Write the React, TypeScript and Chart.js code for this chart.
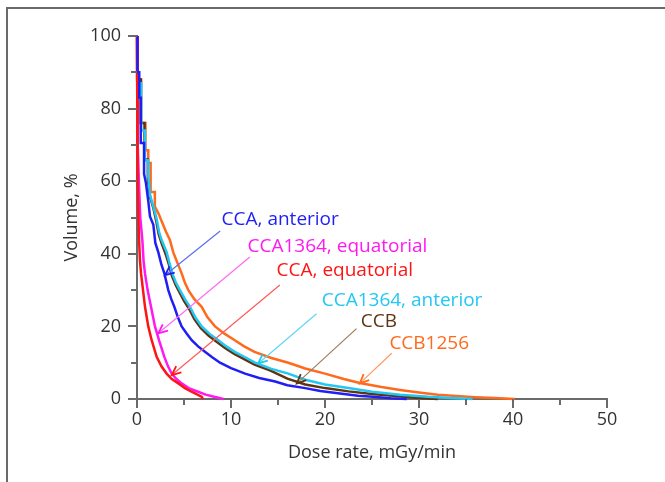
import React, { useEffect, useRef } from 'react';
import { Chart, registerables } from 'chart.js';

Chart.register(...registerables);

const FONT = '"Open Sans", "Noto Sans", sans-serif';
const TEXT = '#333333';
const AXIS = '#6a6a6a';

// Axis ticks
const xTickValues = [0, 10, 20, 30, 40, 50];
const yTickValues = [0, 20, 40, 60, 80, 100];

// CCA, anterior (blue)
const ccaAnteriorDose = [0.05, 0.05, 0.24, 0.24, 0.4, 0.4, 0.75, 0.75, 0.95, 1.2, 1.38, 1.74, 1.95, 2.27, 2.6, 2.91, 3.33, 3.65, 3.97, 4.35, 4.75, 5.3, 5.82, 6.5, 7.23, 8.0, 8.83, 10.0, 11.5, 13.0, 14.7, 16.0, 17.9, 19.5, 21.6, 23.5, 25.1, 27.0, 28.7];
const ccaAnteriorVol = [100, 90, 90, 83, 83, 70.5, 70.5, 62, 59.5, 54.5, 50.3, 48, 43, 40.4, 37, 34.6, 30, 27.5, 25.4, 22.5, 20, 18, 16.2, 14.5, 13, 11.5, 10, 8.5, 7, 5.8, 4.8, 3.8, 3.0, 2.2, 1.5, 0.9, 0.6, 0.2, 0];

// CCA, equatorial (red)
const ccaEquatorialDose = [0, 0.02, 0.1, 0.15, 0.22, 0.32, 0.43, 0.64, 0.85, 1.2, 1.56, 2.09, 2.6, 3.15, 3.7, 4.4, 5.1, 5.8, 6.9, 7.0];
const ccaEquatorialVol = [100, 70, 60, 50, 43.8, 38, 34.6, 30, 25.4, 20, 16.2, 11.6, 9, 7, 5.5, 4.3, 3, 2, 0.6, 0];

// CCA1364, equatorial (magenta)
const cca1364EquatorialDose = [0, 0.05, 0.1, 0.2, 0.35, 0.57, 0.7, 0.85, 1.13, 1.49, 1.91, 2.34, 2.91, 3.3, 3.69, 4.2, 4.75, 5.5, 6.5, 7.3, 8.2, 9.2];
const cca1364EquatorialVol = [100, 80, 70, 60, 50, 43.8, 38, 34.6, 30, 25.4, 20, 16.2, 11.6, 9, 7, 5.5, 4.3, 3, 2, 1.2, 0.6, 0];

// CCA1364, anterior (cyan)
const cca1364AnteriorDose = [0.05, 0.05, 0.45, 0.45, 0.85, 0.85, 1.2, 1.2, 1.4, 1.75, 2.1, 2.35, 2.62, 3.16, 3.45, 3.76, 4.15, 4.57, 5.1, 5.64, 6.2, 6.88, 7.7, 8.65, 9.5, 10.4, 11.5, 12.55, 14.3, 16.1, 17.9, 20, 22.5, 25, 28, 31, 34, 35.7];
const cca1364AnteriorVol = [100, 87, 87, 74, 74, 65.8, 65.8, 61.3, 56, 53, 49.5, 46, 43.8, 40.4, 37.5, 34.6, 32, 30, 27.5, 25.4, 22.5, 20, 18, 16.2, 14.5, 13, 11.5, 10, 8.3, 7, 5.3, 4, 3, 2, 1.2, 0.6, 0.2, 0];

// CCB (brown)
const ccbDose = [0.05, 0.05, 0.4, 0.4, 0.8, 0.8, 1.15, 1.15, 1.4, 1.75, 2.05, 2.3, 2.6, 3.1, 3.4, 3.7, 4.1, 4.5, 5.0, 5.55, 6.1, 6.8, 7.6, 8.5, 9.4, 10.3, 11.4, 12.5, 14.2, 16, 17.9, 20, 22.5, 25, 27.5, 30, 32];
const ccbVol = [100, 88, 88, 76, 76, 66, 66, 60.5, 55.5, 52.5, 49, 45.5, 43, 39.5, 37, 34, 31.5, 29.5, 27, 24.8, 22, 19.5, 17.5, 15.7, 14, 12.5, 11, 9.5, 7.8, 5.6, 4.0, 3.0, 2.1, 1.4, 0.8, 0.3, 0];

// CCB1256 (orange)
const ccb1256Dose = [0, 0, 0.45, 0.45, 0.9, 0.9, 1.2, 1.2, 1.45, 1.45, 1.9, 1.9, 2.3, 2.7, 3.1, 3.5, 3.86, 4.3, 4.75, 5.1, 5.46, 6.1, 6.88, 7.5, 8.3, 9.3, 10.4, 11.4, 12.5, 14.3, 16.1, 17.9, 20, 22, 23.7, 26, 28, 30, 32, 34, 36, 38, 40.2];
const ccb1256Vol = [100, 88, 88, 76, 76, 68.5, 68.5, 65, 65, 57, 57, 53, 51, 48.5, 46, 43.8, 40.4, 37.5, 34.6, 32, 30, 27.5, 25.4, 22.5, 20, 18, 16.2, 14.5, 13, 11.3, 10, 8.4, 7, 5.5, 4.4, 3.3, 2.5, 1.8, 1.2, 0.8, 0.5, 0.3, 0];

const seriesNames = ['CCA, anterior', 'CCA, equatorial', 'CCA1364, equatorial', 'CCA1364, anterior', 'CCB', 'CCB1256'];
const seriesColors = ['#1f1ff5', '#ff1414', '#ff19f0', '#22c8f2', '#5e3411', '#ff6a1c'];
const arrowColors = ['#5d6ef0', '#ff5a5a', '#ff6af6', '#5fd6f6', '#9b7c5e', '#ff9a60'];
const seriesDose = [ccaAnteriorDose, ccaEquatorialDose, cca1364EquatorialDose, cca1364AnteriorDose, ccbDose, ccb1256Dose];
const seriesVol = [ccaAnteriorVol, ccaEquatorialVol, cca1364EquatorialVol, cca1364AnteriorVol, ccbVol, ccb1256Vol];

// Label anchor (left, middle) and arrow from -> to, in data units (same order as series)
const labelAt = [[9.0, 49.3], [14.85, 35.5], [11.75, 41.9], [19.65, 27.2], [23.8, 21.3], [26.85, 15.3]];
const arrowFrom = [[8.85, 46.3], [15.2, 31.4], [12.0, 39.1], [19.1, 23.5], [23.35, 19.4], [27.1, 12.6]];
const arrowTo = [[2.98, 34.1], [3.7, 6.6], [2.27, 18.1], [12.9, 9.8], [17.0, 4.3], [23.7, 4.3]];

const annotationPlugin = {
  id: 'labelsArrows',
  afterDatasetsDraw(chart: any) {
    const { ctx } = chart;
    const sx = chart.scales.x;
    const sy = chart.scales.y;
    ctx.save();
    // axis tick marks (major longer, minor shorter)
    ctx.strokeStyle = AXIS;
    ctx.lineWidth = 2;
    sx.ticks.forEach((t: any) => {
      const px = Math.round(sx.getPixelForValue(t.value));
      const len = t.value % 10 === 0 ? 9 : 6;
      ctx.beginPath();
      ctx.moveTo(px, sy.bottom);
      ctx.lineTo(px, sy.bottom + len);
      ctx.stroke();
    });
    sy.ticks.forEach((t: any) => {
      const py = Math.round(sy.getPixelForValue(t.value));
      const len = t.value % 20 === 0 ? 9 : 6;
      ctx.beginPath();
      ctx.moveTo(sx.left, py);
      ctx.lineTo(sx.left - len, py);
      ctx.stroke();
    });

    for (let i = 0; i < seriesNames.length; i++) {
      const x1 = sx.getPixelForValue(arrowFrom[i][0]);
      const y1 = sy.getPixelForValue(arrowFrom[i][1]);
      const x2 = sx.getPixelForValue(arrowTo[i][0]);
      const y2 = sy.getPixelForValue(arrowTo[i][1]);
      ctx.strokeStyle = arrowColors[i];
      ctx.lineWidth = 1.2;
      ctx.beginPath();
      ctx.moveTo(x1, y1);
      ctx.lineTo(x2, y2);
      ctx.stroke();
      const ang = Math.atan2(y2 - y1, x2 - x1);
      const L = 10;
      const sp = 0.42;
      ctx.strokeStyle = seriesColors[i];
      ctx.lineWidth = 1.8;
      ctx.beginPath();
      ctx.moveTo(x2 - L * Math.cos(ang - sp), y2 - L * Math.sin(ang - sp));
      ctx.lineTo(x2, y2);
      ctx.lineTo(x2 - L * Math.cos(ang + sp), y2 - L * Math.sin(ang + sp));
      ctx.stroke();

      ctx.fillStyle = seriesColors[i];
      ctx.font = `19px ${FONT}`;
      ctx.textAlign = 'left';
      ctx.textBaseline = 'middle';
      ctx.fillText(seriesNames[i], sx.getPixelForValue(labelAt[i][0]), sy.getPixelForValue(labelAt[i][1]));
    }
    ctx.restore();
  },
};

export default function App() {
  const ref = useRef<HTMLCanvasElement | null>(null);

  useEffect(() => {
    if (!ref.current) return;
    const datasets = seriesNames.map((name, i) => ({
      label: name,
      data: seriesDose[i].map((d, j) => ({ x: d, y: seriesVol[i][j] })),
      borderColor: seriesColors[i],
      backgroundColor: seriesColors[i],
      borderWidth: 2.5,
      pointRadius: 0,
      tension: 0,
      fill: false,
      clip: false,
    }));
    const chart = new Chart(ref.current, {
      type: 'line',
      data: { datasets },
      options: {
        animation: false,
        responsive: false,
        maintainAspectRatio: false,
        layout: { padding: { left: 0, top: 36, right: 58, bottom: 0 } },
        plugins: { legend: { display: false }, tooltip: { enabled: false } },
        scales: {
          x: {
            type: 'linear',
            min: 0,
            max: 50,
            afterFit: (s: any) => { s.height = 83; },
            ticks: {
              stepSize: 5,
              autoSkip: false,
              maxRotation: 0,
              padding: 10,
              color: TEXT,
              font: { family: FONT, size: 18 },
              callback: (v: any) => (xTickValues.includes(Number(v)) ? String(v) : ''),
            },
            grid: { drawOnChartArea: false, drawTicks: false },
            border: { display: true, color: AXIS, width: 2 },
            title: {
              display: true,
              text: 'Dose rate, mGy/min',
              color: TEXT,
              font: { family: FONT, size: 18 },
              padding: { top: 0, bottom: 18 },
            },
          },
          y: {
            type: 'linear',
            min: 0,
            max: 100,
            afterFit: (s: any) => { s.width = 137; },
            ticks: {
              stepSize: 10,
              autoSkip: false,
              padding: 16,
              color: TEXT,
              font: { family: FONT, size: 18 },
              callback: (v: any) => (yTickValues.includes(Number(v)) ? String(v) : ''),
            },
            grid: { drawOnChartArea: false, drawTicks: false },
            border: { display: true, color: AXIS, width: 2 },
            title: {
              display: true,
              text: 'Volume, %',
              color: TEXT,
              font: { family: FONT, size: 18 },
              padding: { top: 61, bottom: 0 },
            },
          },
        },
      },
      plugins: [annotationPlugin],
    });
    return () => chart.destroy();
  }, []);

  return (
    <div style={{ position: 'absolute', left: 0, top: 0, width: 665, height: 482, background: '#fff', overflow: 'hidden' }}>
      <div
        style={{
          position: 'absolute',
          left: 6,
          top: 7,
          width: 680,
          height: 500,
          borderTop: `2px solid ${AXIS}`,
          borderLeft: `2px solid ${AXIS}`,
        }}
      />
      <canvas ref={ref} width={665} height={482} style={{ position: 'absolute', left: 0, top: 0, width: 665, height: 482 }} />
    </div>
  );
}
